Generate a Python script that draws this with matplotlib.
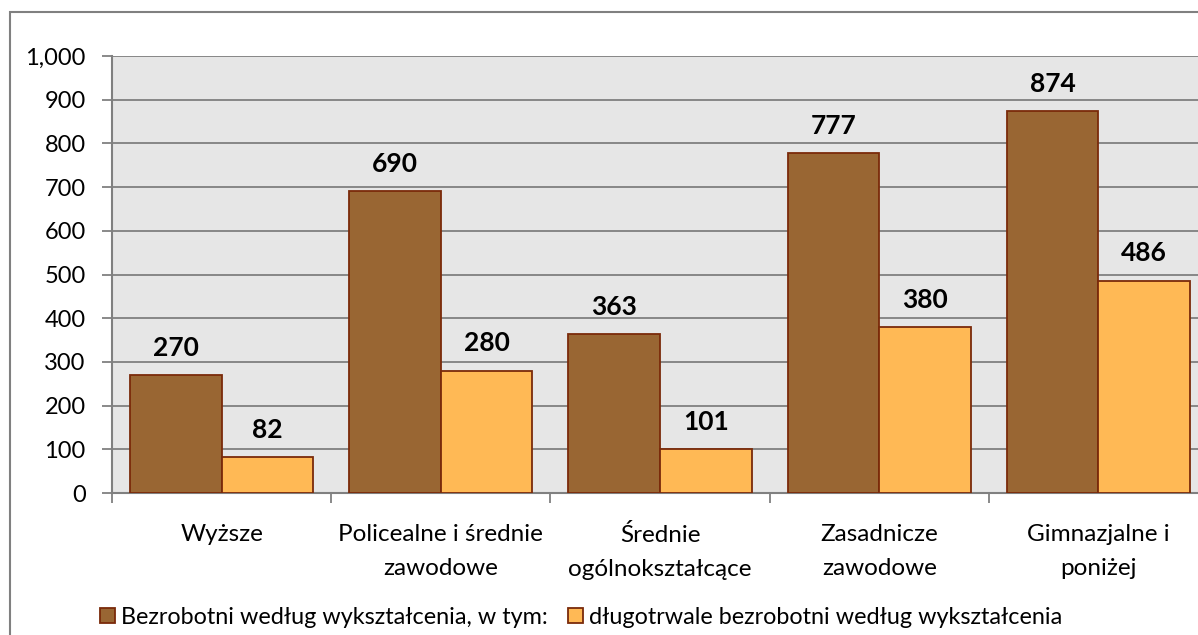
import numpy as np
import matplotlib
matplotlib.use("Agg")
import matplotlib.pyplot as plt
from matplotlib.patches import Rectangle, Patch
from matplotlib.ticker import FuncFormatter

# data
categories = ["Wyższe", "Policealne i średnie\nzawodowe", "Średnie\nogólnokształcące",
              "Zasadnicze\nzawodowe", "Gimnazjalne i\nponiżej"]
bezrobotni = [270, 690, 363, 777, 874]
dlugotrwale = [82, 280, 101, 380, 486]
series_names = ["Bezrobotni według wykształcenia, w tym:",
                "długotrwale bezrobotni według wykształcenia"]

plt.rcParams['font.family'] = ['Lato', 'DejaVu Sans']

fig = plt.figure(figsize=(11.98, 6.35), dpi=100)
ax = fig.add_axes([112 / 1198, 1 - 493 / 635, 1096 / 1198, 437 / 635])

# outer chart border
fig.patches.append(Rectangle((10 / 1198, -0.2), 1.5, 1 - 12 / 635 + 0.2,
                             transform=fig.transFigure, fill=False,
                             edgecolor="#808080", linewidth=1.5, zorder=0))

x = np.arange(len(categories))
w = 0.418
c1, c2 = "#996633", "#FFB955"
edge = "#7A2A0A"
b1 = ax.bar(x - w / 2, bezrobotni, w, color=c1, edgecolor=edge, linewidth=1.3, zorder=3)
b2 = ax.bar(x + w / 2, dlugotrwale, w, color=c2, edgecolor=edge, linewidth=1.3, zorder=3)

for bars in (b1, b2):
    for r in bars:
        ax.annotate(f"{int(r.get_height())}", (r.get_x() + r.get_width() / 2, r.get_height()),
                    xytext=(0, 11), textcoords="offset points", ha="center", va="bottom",
                    fontsize=19, fontweight="bold")

ax.set_xlim(-0.5, len(categories) - 0.5)
ax.set_ylim(0, 1000)
ax.set_yticks(np.arange(0, 1001, 100))
ax.yaxis.set_major_formatter(FuncFormatter(lambda v, p: f"{v:,.0f}"))
ax.set_facecolor("#E6E6E6")
ax.grid(axis="y", color="#808080", linewidth=1.3, zorder=0)
ax.set_axisbelow(True)

ax.set_xticks(x)
ax.set_xticklabels(categories, fontsize=17.5, linespacing=1.78)
ax.set_xticks(np.arange(-0.5, len(categories), 1), minor=True)
ax.tick_params(axis="x", which="major", length=0, pad=22)
ax.tick_params(axis="x", which="minor", length=7, color="#808080", width=1.3, direction="out")
ax.tick_params(axis="y", length=7, color="#808080", width=1.3, labelsize=17, pad=12)

for s in ("top", "right"):
    ax.spines[s].set_visible(False)
for s in ("left", "bottom"):
    ax.spines[s].set_color("#808080")
    ax.spines[s].set_linewidth(1.5)

handles = [Patch(facecolor=c1, edgecolor=edge, linewidth=1.3),
           Patch(facecolor=c2, edgecolor=edge, linewidth=1.3)]
fig.legend(handles, series_names, loc="center", bbox_to_anchor=(0.485, 0.028), ncol=2,
           frameon=False, fontsize=16.8, handlelength=0.62, handleheight=0.62,
           handletextpad=0.25, columnspacing=0.9)

fig.savefig("out.png", dpi=100)
